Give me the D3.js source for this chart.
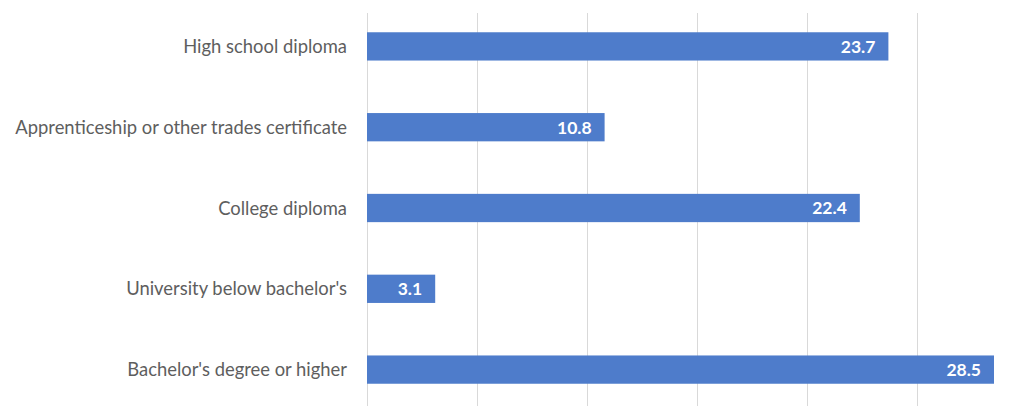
<!DOCTYPE html>
<html>
<head>
<meta charset="utf-8">
<script src="https://cdn.jsdelivr.net/npm/d3@7"></script>
<style>
  body { margin: 0; background: #fff; }
  text { font-family: Lato, "Noto Sans", sans-serif; }
</style>
</head>
<body>
<div id="chart"></div>
<script>
var categories = [
  "High school diploma",
  "Apprenticeship or other trades certificate",
  "College diploma",
  "University below bachelor's",
  "Bachelor's degree or higher"
];
var values = [23.7, 10.8, 22.4, 3.1, 28.5];
var gridTicks = [0, 5, 10, 15, 20, 25, 30];

var width = 1018, height = 406;

var svg = d3.select("#chart").append("svg")
  .attr("width", width)
  .attr("height", height);

var x = d3.scaleLinear().domain([0, 30]).range([367, 1027]);
var y = d3.scaleBand().domain(categories).range([6, 410]).paddingInner(0.65).paddingOuter(0.325);

// gridlines
svg.append("g")
  .selectAll("line")
  .data(gridTicks)
  .enter().append("line")
    .attr("x1", function(d) { return Math.round(x(d)) + 0.5; })
    .attr("x2", function(d) { return Math.round(x(d)) + 0.5; })
    .attr("y1", 13)
    .attr("y2", height)
    .attr("stroke", "#d9d9d9")
    .attr("stroke-width", 1);

// bars
svg.append("g")
  .selectAll("rect")
  .data(values)
  .enter().append("rect")
    .attr("x", x(0))
    .attr("y", function(d, i) { return y(categories[i]); })
    .attr("width", function(d) { return x(d) - x(0); })
    .attr("height", y.bandwidth())
    .attr("fill", "#4e7ccb");

// value labels
svg.append("g")
  .selectAll("text")
  .data(values)
  .enter().append("text")
    .attr("x", function(d) { return x(d) - 13; })
    .attr("y", function(d, i) { return y(categories[i]) + y.bandwidth() / 2; })
    .attr("dy", "0.36em")
    .attr("text-anchor", "end")
    .attr("fill", "#ffffff")
    .attr("font-weight", "bold")
    .attr("font-size", "17.5px")
    .text(function(d) { return d.toFixed(1); });

// category labels
svg.append("g")
  .selectAll("text")
  .data(categories)
  .enter().append("text")
    .attr("x", 347)
    .attr("y", function(d) { return y(d) + y.bandwidth() / 2; })
    .attr("dy", "0.36em")
    .attr("text-anchor", "end")
    .attr("fill", "#5e5e5e")
    .attr("font-size", "18.4px")
    .text(function(d) { return d; });
</script>
</body>
</html>
